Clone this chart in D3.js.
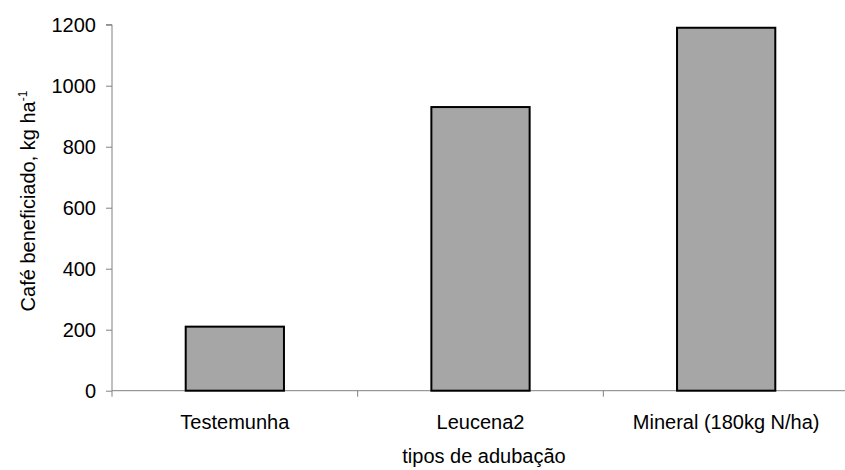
<!DOCTYPE html>
<html><head><meta charset="utf-8">
<script src="https://cdn.jsdelivr.net/npm/d3@7"></script>
<style>body{margin:0;background:#fff}svg{display:block}text{font-family:"Liberation Sans",Arial,sans-serif}</style>
</head><body>
<svg id="c" width="845" height="470"></svg>
<script>
const categories = ["Testemunha", "Leucena2", "Mineral (180kg N/ha)"];
const values = [210, 930, 1190];
const yTicks = [0, 200, 400, 600, 800, 1000, 1200];

const FS = 20;
const svg = d3.select("#c");
const m = {left: 112, right: 849, top: 24.7, bottom: 390.7};
const x = d3.scaleBand().domain(categories).range([m.left, m.right]).paddingInner(0.6).paddingOuter(0.3);
const xb = d3.scaleBand().domain(categories).range([m.left, m.right]);
const y = d3.scaleLinear().domain([0, 1200]).range([m.bottom, m.top]);

// y axis
const ya = svg.append("g").attr("transform", `translate(${m.left},0)`)
  .call(d3.axisLeft(y).tickValues(yTicks).tickSize(6).tickPadding(10).tickFormat(d3.format("d")));
ya.select(".domain").attr("stroke", "#808080").attr("d", `M-6,${y(1200)}H0V${y(0)}`);
ya.selectAll(".tick line").attr("stroke", "#808080");
ya.selectAll("text").attr("font-size", FS).attr("fill", "#000").attr("font-family", "Liberation Sans, Arial, sans-serif");

// x axis
const xg = svg.append("g").attr("transform", `translate(0,${y(0)})`);
xg.append("line").attr("x1", m.left).attr("x2", m.right).attr("stroke", "#808080");
const xt = [m.left].concat(categories.map(c => xb(c) + xb.bandwidth()));
xg.selectAll("line.t").data(xt).join("line").attr("class","t")
  .attr("x1", d => d).attr("x2", d => d).attr("y1", 0).attr("y2", 6).attr("stroke", "#808080");
xg.selectAll("text.c").data(categories).join("text").attr("class","c")
  .attr("x", d => xb(d) + xb.bandwidth()/2).attr("y", 38)
  .attr("text-anchor", "middle").attr("font-size", FS).text(d => d);

// bars
svg.selectAll("rect.bar").data(values).join("rect").attr("class","bar")
  .attr("x", (d,i) => x(categories[i]))
  .attr("width", x.bandwidth())
  .attr("y", d => y(d))
  .attr("height", d => y(0) - y(d))
  .attr("fill", "#a6a6a6").attr("stroke", "#000").attr("stroke-width", 2);

// axis titles
svg.append("text").attr("x", 484).attr("y", 463).attr("text-anchor", "middle").attr("font-size", FS).text("tipos de adubação");
const yt = svg.append("text").attr("transform", "translate(35,201) rotate(-90)").attr("text-anchor", "middle").attr("font-size", FS);
yt.append("tspan").text("Café beneficiado, kg ha");
yt.append("tspan").attr("dy", -8).attr("font-size", 12).text("-1");
</script>
</body></html>
